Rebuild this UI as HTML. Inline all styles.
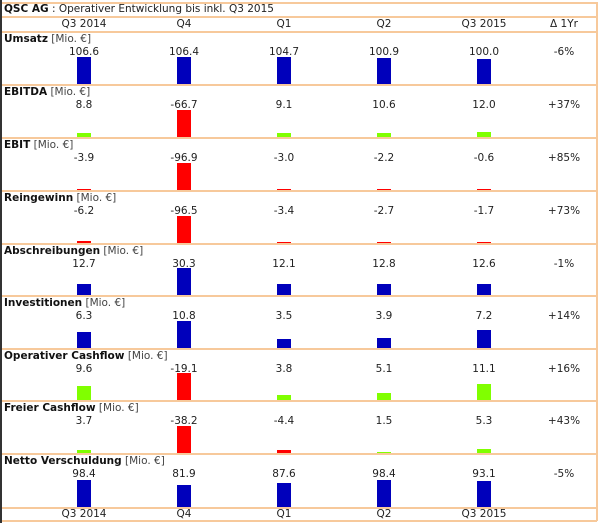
<!DOCTYPE html>
<html><head><meta charset="utf-8"><style>
body{margin:0;background:#fff;width:601px;height:523px;position:relative;overflow:hidden;font-family:"DejaVu Sans",Verdana,sans-serif;font-size:10.5px;color:#222}
.a{position:absolute}
.h{height:2px;background:#f7c99b;left:2px;width:595px}
.t{white-space:nowrap}
.c{text-align:center;width:80px;white-space:nowrap}
b{font-weight:bold;color:#111}
.u{color:#444}
</style></head><body>
<div class="a" style="left:0;top:0;width:2px;height:523px;background:#333"></div>
<div class="a" style="left:596px;top:2px;width:2px;height:519px;background:#f7c99b"></div>
<div class="a h" style="top:2px"></div>
<div class="a h" style="top:520px"></div>
<div class="a t" style="left:4px;top:3px"><b>QSC AG</b> : Operativer Entwicklung bis inkl. Q3 2015</div>
<div class="a h" style="top:16px"></div>
<div id="root"></div>
<script>
var cx=[84,184,284,384,484,564];
var heads=["Q3 2014","Q4","Q1","Q2","Q3 2015","Δ 1Yr"];
var html="";
for(var i=0;i<6;i++){html+='<div class="a c" style="left:'+(cx[i]-40)+'px;top:18px">'+heads[i]+'</div>';
 if(i<5)html+='<div class="a c" style="left:'+(cx[i]-40)+'px;top:508px">'+heads[i]+'</div>';}
var lines=[31,84,137,190,243,295,348,400,453,507];
lines.forEach(function(y){html+='<div class="a h" style="top:'+y+'px"></div>';});
var rows=[
["Umsatz",[106.6,106.4,104.7,100.9,100.0],"-6%","b"],
["EBITDA",[8.8,-66.7,9.1,10.6,12.0],"+37%","s"],
["EBIT",[-3.9,-96.9,-3.0,-2.2,-0.6],"+85%","s"],
["Reingewinn",[-6.2,-96.5,-3.4,-2.7,-1.7],"+73%","s"],
["Abschreibungen",[12.7,30.3,12.1,12.8,12.6],"-1%","b"],
["Investitionen",[6.3,10.8,3.5,3.9,7.2],"+14%","b"],
["Operativer Cashflow",[9.6,-19.1,3.8,5.1,11.1],"+16%","s"],
["Freier Cashflow",[3.7,-38.2,-4.4,1.5,5.3],"+43%","s"],
["Netto Verschuldung",[98.4,81.9,87.6,98.4,93.1],"-5%","b"]];
rows.forEach(function(r,k){
 var top=lines[k]+2,bot=lines[k+1];
 html+='<div class="a t" style="left:4px;top:'+(top)+'px"><b>'+r[0]+'</b> <span class="u">[Mio. €]</span></div>';
 var mx=0;r[1].forEach(function(v){mx=Math.max(mx,Math.abs(v));});
 r[1].forEach(function(v,i){
  html+='<div class="a c" style="left:'+(cx[i]-40)+'px;top:'+(top+13)+'px">'+v.toFixed(1)+'</div>';
  var h=Math.max(1,Math.round(27*Math.abs(v)/mx));
  var col=r[3]=="b"?"#0000bb":(v<0?"#ff0000":"#80ff00");
  html+='<div class="a" style="left:'+(cx[i]-7)+'px;width:14px;top:'+(bot-h)+'px;height:'+h+'px;background:'+col+'"></div>';
 });
 html+='<div class="a c" style="left:'+(cx[5]-40)+'px;top:'+(top+13)+'px">'+r[2]+'</div>';
});
document.getElementById("root").innerHTML=html;
</script>
</body></html>
